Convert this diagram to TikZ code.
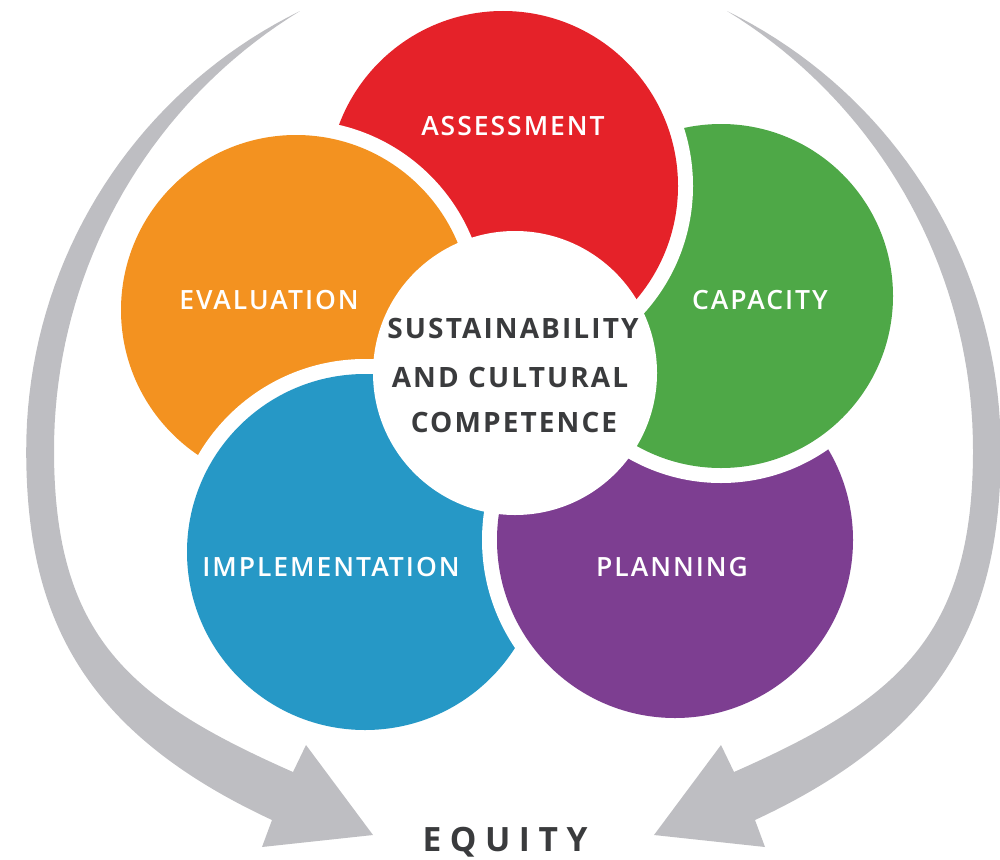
\documentclass[tikz,border=0pt]{standalone}
\usepackage{fontspec}
\setmainfont{Open Sans}
\IfFontExistsTF{Open Sans SemiBold}{\newfontfamily\labelfont{Open Sans SemiBold}}{%
  \IfFontExistsTF{Open Sans Semibold}{\newfontfamily\labelfont{Open Sans Semibold}}{%
    \newfontfamily\labelfont{Open Sans}}}
\usepackage{xcolor}
\usepackage{tikz}

\definecolor{assessred}{HTML}{E52229}
\definecolor{capgreen}{HTML}{4EA847}
\definecolor{planpurple}{HTML}{7D3E91}
\definecolor{implblue}{HTML}{2698C6}
\definecolor{evalorange}{HTML}{F39220}
\definecolor{arrowgrey}{HTML}{BEBEC2}
\definecolor{textgrey}{HTML}{3A3B3D}

\begin{document}
\begin{tikzpicture}[x=1pt,y=-1pt,
  arr/.style={fill=arrowgrey},
  lbl/.style={anchor=base,inner sep=0pt,text=white,font=\labelfont\fontsize{26.5}{30}\selectfont\addfontfeatures{LetterSpace=7.5}},
  ctr/.style={anchor=base,inner sep=0pt,text=textgrey,font=\fontsize{28}{32}\selectfont\bfseries\addfontfeatures{LetterSpace=7.5}},
  eq/.style={anchor=base,inner sep=0pt,text=textgrey,font=\fontsize{33.5}{36}\selectfont\bfseries\addfontfeatures{LetterSpace=25.5}}]
  \useasboundingbox (0,0) rectangle (1000,859);
  % grey arrows, the right one is the mirror of the left one
  \foreach \mirror/\shift in {1/0,-1/1027}{
    \begin{scope}[xshift=\shift pt,xscale=\mirror]
      \fill[arr] plot[domain=63.9:0,samples=40,variable=\p] ({515-488.8*cos(\p)},{450-488.8*sin(\p)})
        .. controls (26.2,609) and (76,729) .. (272,820)
        -- (262,847) -- (373,835) -- (306,745) -- (293,772)
        .. controls (130,700) and (54,637) .. (54,450)
        -- plot[domain=0:58.5,samples=40,variable=\p] ({568.7-514.7*cos(\p)},{450-514.7*sin(\p)})
        -- cycle;
    \end{scope}
  }
  % circle centres
  \coordinate (assessment) at (503,186);
  \coordinate (capacity) at (721,296);
  \coordinate (planning) at (675,540);
  \coordinate (implementation) at (365,552);
  \coordinate (evaluation) at (296,310);
  \coordinate (core) at (515,373);
  % each circle lies over the next one clockwise
  \fill[white] (capacity) circle (187pt);
  \fill[capgreen] (capacity) circle (172pt);
  \fill[white] (assessment) circle (190pt);
  \fill[assessred] (assessment) circle (175pt);
  \fill[white] (evaluation) circle (190pt);
  \fill[evalorange] (evaluation) circle (175pt);
  \fill[white] (implementation) circle (193pt);
  \fill[implblue] (implementation) circle (178pt);
  \fill[white] (planning) circle (193pt);
  \fill[planpurple] (planning) circle (178pt);
  \begin{scope}
    \clip (0,320) rectangle (1000,859);
    \fill[white] (capacity) circle (187pt);
    \fill[capgreen] (capacity) circle (172pt);
  \end{scope}
  \fill[white] (core) circle (142pt);
  % labels
  \node[lbl] (assesslbl) at (513,135) {ASSESSMENT};
  \node[lbl] (evallbl) at (269,309) {EVALUATION};
  \node[lbl] (caplbl) at (760,309) {CAPACITY};
  \node[lbl] (impllbl) at (331,576) {IMPLEMENTATION};
  \node[lbl] (planlbl) at (672,576) {PLANNING};
  \node[ctr] (corea) at (513,338) {SUSTAINABILITY};
  \node[ctr] (coreb) at (510,387) {AND CULTURAL};
  \node[ctr] (corec) at (514,432) {COMPETENCE};
  \node[eq] (equity) at (505,851) {EQUITY};
\end{tikzpicture}
\end{document}
